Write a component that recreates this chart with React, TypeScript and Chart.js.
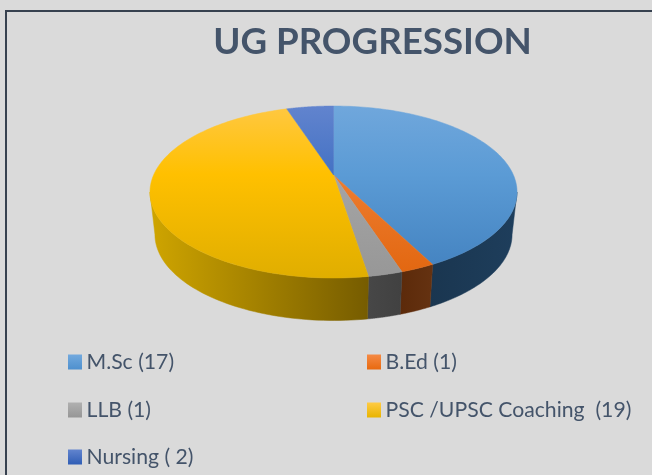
import React, { useEffect, useRef } from "react";
import { Chart, registerables } from "chart.js";

Chart.register(...registerables);

const categories = ["M.Sc (17)", "B.Ed (1)", "LLB (1)", "PSC /UPSC Coaching  (19)", "Nursing ( 2)"];
const seriesValues = [17, 1, 1, 19, 2];
const chartTitle = "UG PROGRESSION";

const faceColors = [
  ["#70A7DC", "#5B9BD5", "#4281BF"],
  ["#F58235", "#ED7D31", "#E2660F"],
  ["#ABABAB", "#A5A5A5", "#979797"],
  ["#FFC843", "#FFC000", "#E0AE00"],
  ["#6284CE", "#4472C4", "#2C5BB3"],
];
const wallColors = [
  ["#1A3650", "#1E3E5C"],
  ["#5C2A0A", "#653211"],
  ["#474747", "#414141"],
  ["#CFA500", "#765C00"],
  ["#1F3864", "#1F3864"],
];
const swatchColors = [
  ["#72A9DE", "#4E90CE"],
  ["#F58A45", "#E8690F"],
  ["#B0B0B0", "#969696"],
  ["#FFCB45", "#E8B400"],
  ["#6284CE", "#2F5DB5"],
];

const CX = 333.5;
const ELLIPSE_CY = 192;
const RY = 86;
const APEX_DY = -17;
const PERSPECTIVE = -0.1977;
const DX = 179.9;
const WALL_DEPTH = 42.5;
const WALL_SCALE = 0.973;
const FACE_TOP = 105;
const FACE_BOTTOM = 278;
const BG = "#DADADA";
const TEXT = "#44546A";

function project(u: number, v: number) {
  const d = 1 + PERSPECTIVE * v;
  return { x: DX * u / d, y: (RY * v + APEX_DY) / d };
}
const topPoint = (a: number, r = 1) => {
  const p = project(r * Math.cos(a), r * Math.sin(a));
  return { x: CX + p.x, y: ELLIPSE_CY + p.y };
};
const bottomPoint = (a: number) => {
  const p = project(Math.cos(a), Math.sin(a));
  return { x: CX + p.x * WALL_SCALE, y: ELLIPSE_CY + p.y + WALL_DEPTH };
};

const pie3d = {
  id: "pie3d",
  beforeDraw(chart: any) {
    const { ctx, width, height } = chart;
    ctx.save();
    ctx.fillStyle = BG;
    ctx.fillRect(0, 0, width, height);
    ctx.strokeStyle = "#37414F";
    ctx.lineWidth = 2;
    ctx.strokeRect(6, 11, width + 20, height + 20);
    ctx.restore();
  },
  beforeDatasetDraw(chart: any) {
    const { ctx } = chart;
    const arcs = chart.getDatasetMeta(0).data;
    // The walls run between the two points where the rim is widest.
    const frontMin = Math.asin(-PERSPECTIVE);
    const frontMax = Math.PI - frontMin;
    ctx.save();
    arcs.forEach((arc: any, i: number) => {
      const twoPi = Math.PI * 2;
      const a0 = arc.startAngle, a1 = arc.endAngle;
      const segs: [number, number][] = [];
      for (const k of [-1, 0, 1]) {
        const s = Math.max(a0 + k * twoPi, frontMin);
        const e = Math.min(a1 + k * twoPi, frontMax);
        if (e > s) segs.push([s, e]);
      }
      for (const [s, e] of segs) {
        const n = 60;
        const pts: { x: number; y: number }[] = [];
        for (let j = 0; j <= n; j++) pts.push(topPoint(s + (e - s) * j / n));
        for (let j = n; j >= 0; j--) pts.push(bottomPoint(s + (e - s) * j / n));
        const xs = pts.map((p) => p.x);
        const g = ctx.createLinearGradient(Math.min(...xs), 0, Math.max(...xs), 0);
        g.addColorStop(0, wallColors[i][0]);
        g.addColorStop(1, wallColors[i][1]);
        ctx.fillStyle = g;
        ctx.strokeStyle = g;
        ctx.lineWidth = 0.5;
        ctx.beginPath();
        pts.forEach((p, j) => (j ? ctx.lineTo(p.x, p.y) : ctx.moveTo(p.x, p.y)));
        ctx.closePath();
        ctx.fill();
        ctx.stroke();
      }
    });
    arcs.forEach((arc: any, i: number) => {
      const a0 = arc.startAngle, a1 = arc.endAngle;
      const g = ctx.createLinearGradient(0, FACE_TOP, 0, FACE_BOTTOM);
      g.addColorStop(0, faceColors[i][0]);
      g.addColorStop(0.4, faceColors[i][1]);
      g.addColorStop(1, faceColors[i][2]);
      ctx.fillStyle = g;
      ctx.strokeStyle = g;
      ctx.lineWidth = 0.5;
      ctx.beginPath();
      const apex = topPoint(0, 0);
      ctx.moveTo(apex.x, apex.y);
      const n = 120;
      for (let j = 0; j <= n; j++) {
        const p = topPoint(a0 + (a1 - a0) * j / n);
        ctx.lineTo(p.x, p.y);
      }
      ctx.closePath();
      ctx.fill();
      ctx.stroke();
    });
    ctx.restore();
    return false;
  },
  afterDraw(chart: any) {
    const { ctx } = chart;
    const rows = [362, 410, 457];
    const columns = [68, 367];
    const order = [[0, 0], [1, 0], [0, 1], [1, 1], [0, 2]];
    ctx.save();
    ctx.font = "21.2px Lato";
    ctx.textBaseline = "middle";
    ctx.textAlign = "left";
    categories.forEach((label, i) => {
      const x = columns[order[i][0]];
      const y = rows[order[i][1]];
      const g = ctx.createLinearGradient(0, y - 7.5, 0, y + 7.5);
      g.addColorStop(0, swatchColors[i][0]);
      g.addColorStop(1, swatchColors[i][1]);
      ctx.fillStyle = g;
      ctx.fillRect(x, y - 7.5, 14, 15);
      ctx.fillStyle = TEXT;
      ctx.fillText(label, x + 18.5, y);
    });
    ctx.restore();
  },
};

export default function App() {
  const ref = useRef<HTMLCanvasElement>(null);
  useEffect(() => {
    const chart = new Chart(ref.current!, {
      type: "pie",
      data: {
        labels: categories,
        datasets: [{ data: seriesValues, backgroundColor: faceColors.map((c) => c[1]), borderWidth: 0 }],
      },
      options: {
        responsive: false,
        animation: false,
        events: [],
        layout: { padding: { left: 93, bottom: 100 } },
        plugins: {
          legend: { display: false },
          tooltip: { enabled: false },
          title: {
            display: true,
            text: chartTitle,
            fullSize: false,
            color: TEXT,
            font: { family: "Lato", size: 36.7, weight: "bold" },
            padding: { top: 20, bottom: 10 },
          },
        },
      },
      plugins: [pie3d],
    } as any);
    return () => chart.destroy();
  }, []);
  return (
    <div style={{ position: "fixed", left: 0, top: 0, width: 652, height: 475, overflow: "hidden" }}>
      <canvas ref={ref} width={652} height={475} style={{ display: "block" }} />
    </div>
  );
}
